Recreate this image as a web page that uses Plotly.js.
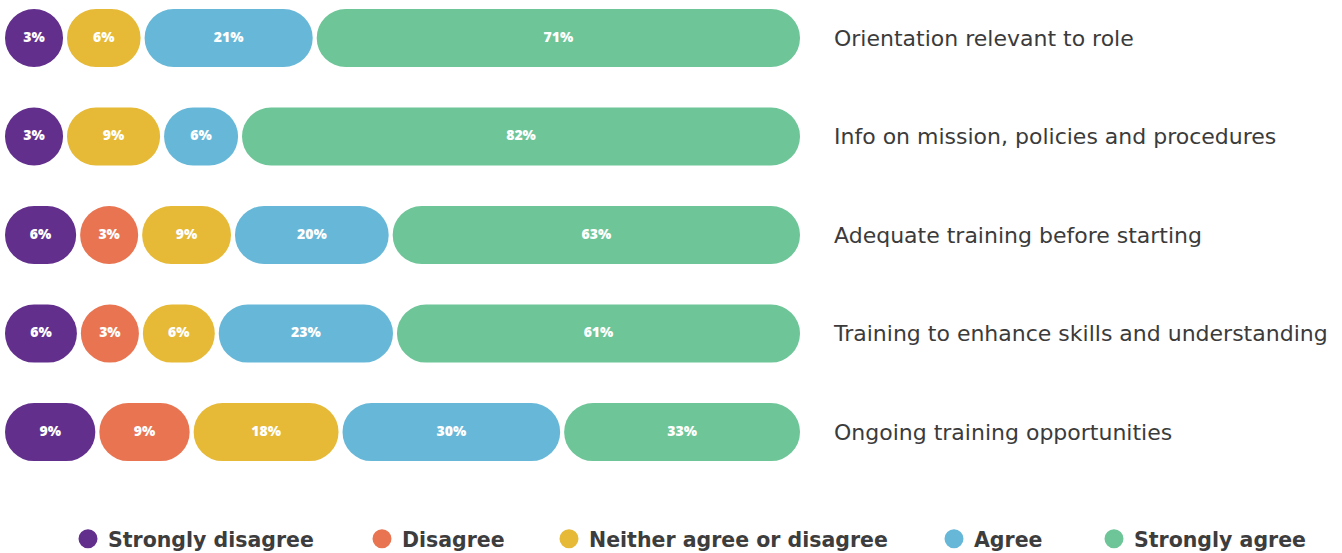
<!DOCTYPE html>
<html><head><meta charset="utf-8">
<script src="https://cdn.plot.ly/plotly-3.0.1.min.js"></script>
<style>html,body{margin:0;padding:0;background:#fff}</style>
</head><body><div id="chart" style="width:1342px;height:553px"></div>
<script>
// ---- data ----
const rows = [
  "Orientation relevant to role",
  "Info on mission, policies and procedures",
  "Adequate training before starting",
  "Training to enhance skills and understanding",
  "Ongoing training opportunities"
];
const seriesNames = ["Strongly disagree", "Disagree", "Neither agree or disagree", "Agree", "Strongly agree"];
const stronglyDisagree = [3, 3, 6, 6, 9];
const disagree         = [0, 0, 3, 3, 9];
const neither          = [6, 9, 9, 6, 18];
const agree            = [21, 6, 20, 23, 30];
const stronglyAgree    = [71, 82, 63, 61, 33];
const colors = ["#622F8D", "#E87451", "#E6B937", "#67B8D8", "#6DC598"];

// ---- pill layout (each row fills a 0..100 track; every pill has a minimum size) ----
const series = [stronglyDisagree, disagree, neither, agree, stronglyAgree];
const CAP = 4.5, GAP = 0.5, MINL = 7.3;
const starts = series.map(() => []), lens = series.map(() => []), centers = series.map(() => []);
rows.forEach((r, i) => {
  const vals = series.map(s => s[i]);
  const active = vals.map(v => v > 0);
  const n = active.filter(Boolean).length;
  let fixed = vals.map(() => false);
  let L = [];
  for (let it = 0; it < 5; it++) {
    let free = 100 - (n - 1) * GAP, sum = 0, nf = 0;
    vals.forEach((v, j) => { if (!active[j]) return; if (fixed[j]) free -= MINL; else { sum += v; nf++; } });
    const k = (free - nf * CAP) / sum;
    L = vals.map((v, j) => !active[j] ? 0 : fixed[j] ? MINL : CAP + k * v);
    let changed = false;
    L.forEach((l, j) => { if (active[j] && !fixed[j] && l < MINL) { fixed[j] = true; changed = true; } });
    if (!changed) break;
  }
  let pos = 0;
  vals.forEach((v, j) => {
    if (active[j]) {
      starts[j][i] = pos; lens[j][i] = L[j]; centers[j][i] = pos + L[j] / 2; pos += L[j] + GAP;
    } else { starts[j][i] = null; lens[j][i] = null; centers[j][i] = null; }
  });
});

const traces = [];
series.forEach((s, j) => {
  traces.push({
    type: 'bar', orientation: 'h', y: rows, width: 0.59,
    base: starts[j], x: lens[j],
    marker: {color: colors[j], cornerradius: 29, line: {width: 0}},
    hoverinfo: 'skip', showlegend: false
  });
});
series.forEach((s, j) => {
  traces.push({
    type: 'scatter', mode: 'text', y: rows,
    x: centers[j], text: s.map(v => v > 0 ? v + '%' : ''),
    textposition: 'middle center',
    textfont: {family: 'Open Sans, sans-serif', size: 14, color: '#ffffff', weight: 800},
    hoverinfo: 'skip', showlegend: false
  });
});
const legendX = [88, 382, 569, 954, 1114];
const layout = {
  width: 1342, height: 553,
  margin: {l: 0, r: 0, t: 0, b: 73},
  paper_bgcolor: '#ffffff', plot_bgcolor: '#ffffff',
  barmode: 'overlay',
  xaxis: {domain: [5 / 1342, 800 / 1342], range: [0, 100], visible: false, fixedrange: true},
  yaxis: {
    type: 'category', range: [4.487, -0.386], autorange: false, side: 'right',
    showgrid: false, zeroline: false, showline: false, ticks: '',
    ticklabelstandoff: 33, automargin: false,
    tickfont: {family: 'DejaVu Sans, sans-serif', size: 22, color: '#3b3b3b'}
  }
};
series.forEach((s, j) => {
  const key = j === 0 ? 'legend' : 'legend' + (j + 1);
  traces.push({
    type: 'scatter', mode: 'markers', x: [null], y: [null], name: seriesNames[j],
    marker: {color: colors[j], size: 16, symbol: 'circle', line: {color: colors[j], width: 3}},
    legend: key, showlegend: true, hoverinfo: 'skip'
  });
  layout[key] = {
    xref: 'container', yref: 'container', x: (legendX[j] - 20) / 1342, y: (553 - 539) / 553,
    xanchor: 'left', yanchor: 'middle', orientation: 'h',
    bgcolor: 'rgba(0,0,0,0)', borderwidth: 0,
    font: {family: 'DejaVu Sans, sans-serif', size: 20.5, color: '#3d3d3d', weight: 700}
  };
});
Plotly.newPlot('chart', traces, layout, {displayModeBar: false, staticPlot: true});
</script></body></html>
